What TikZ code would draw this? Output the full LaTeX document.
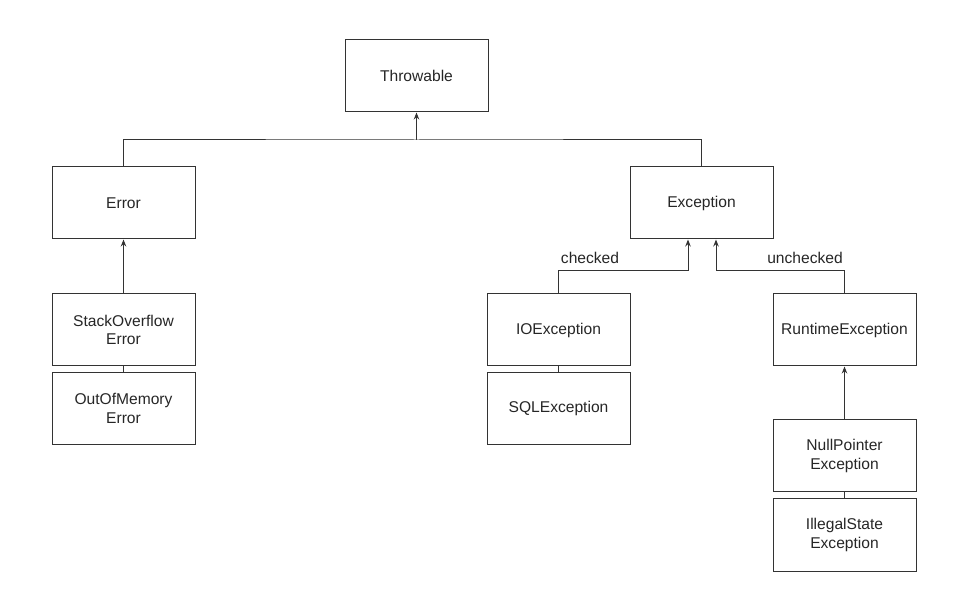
\documentclass[tikz,border=0pt]{standalone}
\usepackage{fontspec}
\setmainfont{Liberation Sans}
\usetikzlibrary{arrows.meta}
\begin{document}
\begin{tikzpicture}[x=1pt,y=-1pt,
  box/.style={draw=black!80,line width=1pt,rectangle,minimum width=143pt,minimum height=72pt,
    align=center,font=\fontsize{15.6}{18.8}\selectfont,text=black!85,inner sep=0pt},
  conn/.style={draw=black!80,line width=1pt},
  arr/.style={conn,-{Stealth[length=7pt,width=5.5pt]}},
  lbl/.style={font=\fontsize{15.6}{18.8}\selectfont,text=black!85,inner sep=0pt}]
\useasboundingbox (0,0) rectangle (959,601);
\node[box] (thr) at (416.5,76) {Throwable};
\node[box] (err) at (123.5,203) {Error};
\node[box] (exc) at (701.5,203) {Exception};
\node[box] (so) at (123.5,330) {StackOverflow\\Error};
\node[box] (oom) at (123.5,408.5) {OutOfMemory\\Error};
\node[box] (io) at (558.5,330) {IOException};
\node[box] (sql) at (558.5,408.5) {SQLException};
\node[box] (rt) at (844.5,330) {RuntimeException};
\node[box] (np) at (844.5,456) {NullPointer\\Exception};
\node[box] (ils) at (844.5,535) {IllegalState\\Exception};
\node[lbl] (chk) at (590,258) {checked};
\node[lbl] (unchk) at (805,258) {unchecked};

\coordinate (bus) at (416.5,140);
\draw[conn] (err.north) |- (bus) -| (exc.north);
\draw[arr] (bus) -- (thr.south);
\draw[arr] (so.north) -- (err.south);
\draw[conn] (so.south) -- (oom.north);
\draw[arr] (io.north) |- ([xshift=-13.5pt,yshift=-31pt]exc.south) -- ([xshift=-13.5pt]exc.south);
\draw[arr] (rt.north) |- ([xshift=14.5pt,yshift=-31pt]exc.south) -- ([xshift=14.5pt]exc.south);
\draw[conn] (io.south) -- (sql.north);
\draw[arr] (np.north) -- (rt.south);
\draw[conn] (np.south) -- (ils.north);
\end{tikzpicture}
\end{document}
